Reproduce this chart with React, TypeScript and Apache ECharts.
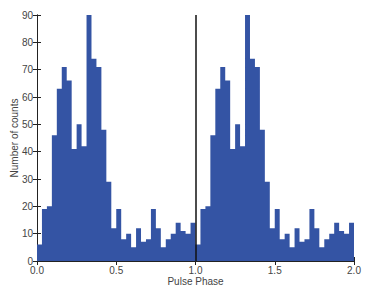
import React, { useEffect, useRef } from "react";
import * as echarts from "echarts";

// Counts per phase bin (32 bins per cycle), one cycle
const cycleCounts: number[] = [
  6, 19, 20, 46, 63, 71, 66, 41, 50, 42, 90, 74, 71, 48, 29, 12,
  19, 8, 10, 5, 12, 7, 8, 19, 12, 5, 8, 10, 14, 11, 10, 14,
];
const binsPerCycle = 32;
const cycles = 2;
const xTicks = [0, 0.5, 1, 1.5, 2];
const yMax = 90;
const yInterval = 10;
const barColor = "#3454a4";

export default function App() {
  const ref = useRef<HTMLDivElement>(null);
  useEffect(() => {
    if (!ref.current) return;
    const chart = echarts.init(ref.current, undefined, { renderer: "svg" });
    const data: number[][] = [];
    for (let c = 0; c < cycles; c++) {
      cycleCounts.forEach((v, i) => {
        data.push([c + i / binsPerCycle, v]);
      });
    }
    data.push([cycles, cycleCounts[cycleCounts.length - 1]]);
    const font = "'Liberation Sans', Arial, sans-serif";
    const axisColor = "#222";
    const labelColor = "#444";
    chart.setOption({
      animation: false,
      grid: { left: 37, right: 20, top: 15, bottom: 30, outerBoundsMode: "none", containLabel: false },
      xAxis: [
        {
          type: "value",
          min: xTicks[0],
          max: xTicks[xTicks.length - 1],
          interval: 0.5,
          name: "Pulse Phase",
          nameLocation: "middle",
          nameGap: 15,
          nameMoveOverlap: false,
          nameTextStyle: { fontFamily: font, fontSize: 10, color: labelColor },
          axisLine: { show: true, lineStyle: { color: axisColor, width: 1 } },
          axisTick: { show: true, inside: true, length: 4, lineStyle: { color: axisColor } },
          axisLabel: {
            fontFamily: font,
            fontSize: 10,
            color: labelColor,
            margin: 4,
            formatter: (v: number) => v.toFixed(1),
          },
          splitLine: { show: false },
        },
        {
          type: "value",
          position: "top",
          min: xTicks[0],
          max: xTicks[xTicks.length - 1],
          interval: 0.5,
          axisLine: { show: true, lineStyle: { color: axisColor, width: 1 } },
          axisTick: { show: true, inside: true, length: 4, lineStyle: { color: axisColor } },
          axisLabel: { show: false },
          splitLine: { show: false },
        },
      ],
      yAxis: [
        {
          type: "value",
          min: 0,
          max: yMax,
          interval: yInterval,
          name: "Number of counts",
          nameLocation: "middle",
          nameGap: 18,
          nameMoveOverlap: false,
          nameTextStyle: { fontFamily: font, fontSize: 10, color: labelColor },
          axisLine: { show: true, lineStyle: { color: axisColor, width: 1 } },
          axisTick: { show: true, inside: true, length: 4, lineStyle: { color: axisColor } },
          axisLabel: { fontFamily: font, fontSize: 10, color: labelColor, margin: 4 },
          splitLine: { show: false },
        },
        {
          type: "value",
          position: "right",
          min: 0,
          max: yMax,
          interval: yInterval,
          axisLine: { show: true, lineStyle: { color: axisColor, width: 1 } },
          axisTick: { show: true, inside: true, length: 4, lineStyle: { color: axisColor } },
          axisLabel: { show: false },
          splitLine: { show: false },
        },
      ],
      series: [
        {
          type: "line",
          xAxisIndex: 0,
          yAxisIndex: 0,
          step: "end",
          data,
          symbol: "none",
          lineStyle: { width: 0 },
          areaStyle: { color: barColor, opacity: 1 },
          markLine: {
            silent: true,
            symbol: "none",
            label: { show: false },
            lineStyle: { color: "#111", width: 1.5, type: "solid" },
            data: [{ xAxis: 1 }],
          },
        },
      ],
    });
    return () => chart.dispose();
  }, []);
  return (
    <div
      ref={ref}
      style={{ position: "fixed", left: 0, top: 0, width: 374, height: 291, background: "#fff" }}
    />
  );
}
